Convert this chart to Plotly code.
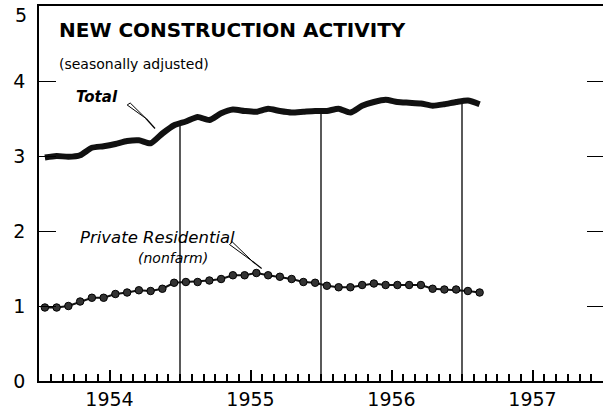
import plotly.graph_objects as go

# ---- data (billions of dollars, monthly, seasonally adjusted) ----
years = [1954, 1955, 1956, 1957]
year_labels = ["1954", "1955", "1956", "1957"]
y_ticks = [0, 1, 2, 3, 4]
y_tick_labels = ["0", "1", "2", "3", "4"]
y_top_label = "5"

total = [2.98, 3.00, 2.99, 3.01, 3.11, 3.13, 3.16, 3.20, 3.21, 3.17, 3.30, 3.41,
         3.46, 3.52, 3.48, 3.57, 3.62, 3.60, 3.59, 3.63, 3.60, 3.58, 3.59, 3.60,
         3.60, 3.63, 3.58, 3.67, 3.72, 3.75, 3.72, 3.71, 3.70, 3.67, 3.69, 3.72,
         3.74, 3.69]
private_residential = [0.98, 0.98, 1.00, 1.06, 1.11, 1.11, 1.16, 1.18, 1.21, 1.20, 1.23, 1.31,
                       1.32, 1.32, 1.34, 1.36, 1.41, 1.41, 1.44, 1.41, 1.39, 1.36, 1.32, 1.31,
                       1.27, 1.25, 1.25, 1.28, 1.30, 1.28, 1.28, 1.28, 1.28, 1.23, 1.22, 1.22,
                       1.20, 1.18]

# months Jan 1954 .. Feb 1957, plotted at mid-month (fractional years)
n = len(total)
x = [1954 + (i + 0.5) / 12 for i in range(n)]

FONT = "DejaVu Sans"
fig = go.Figure()

# vertical year dividers from zero up to the Total line
for yr in [1955, 1956, 1957]:
    k = (yr - 1954) * 12
    top = (total[k - 1] + total[k]) / 2
    fig.add_shape(type="line", xref="x", yref="y", x0=yr, x1=yr, y0=0, y1=top,
                  line=dict(color="black", width=1.3), layer="below")

fig.add_trace(go.Scatter(x=x, y=total, mode="lines",
                         line=dict(color="#111", width=6, shape="spline", smoothing=0.6),
                         hoverinfo="skip", showlegend=False))
fig.add_trace(go.Scatter(x=x, y=private_residential, mode="lines+markers",
                         line=dict(color="#111", width=2),
                         marker=dict(size=7.5, color="#333", line=dict(color="#000", width=1)),
                         hoverinfo="skip", showlegend=False))
# invisible trace for the right-hand tick axis
fig.add_trace(go.Scatter(x=[1954], y=[0], yaxis="y2", mode="markers",
                         marker=dict(opacity=0), hoverinfo="skip", showlegend=False))

# leader lines (hollow sliver + single stroke)
leaders = [
    [(1954.6255, 3.68), (1954.6468, 3.707), (1954.7589, 3.50), (1954.8227, 3.367)],
    [(1955.351, 1.82), (1955.372, 1.853), (1955.511, 1.60), (1955.579, 1.50)],
]
for a, b, c, d in leaders:
    fig.add_shape(type="path", xref="x", yref="y",
                  path=f"M{a[0]},{a[1]} L{c[0]},{c[1]} L{b[0]},{b[1]} Z",
                  line=dict(color="black", width=1), fillcolor="white")
    fig.add_shape(type="line", xref="x", yref="y", x0=c[0], y0=c[1], x1=d[0], y1=d[1],
                  line=dict(color="black", width=1.3))

ann = [
    dict(text="<b>NEW CONSTRUCTION ACTIVITY</b>", x=0.032, y=0.936, xanchor="left",
         font=dict(family=FONT, size=20, color="black")),
    dict(text="(seasonally adjusted)", x=0.032, y=0.845, xanchor="left",
         font=dict(family=FONT, size=14, color="black")),
    dict(text="<b><i>Total</i></b>", x=0.062, y=0.757, xanchor="left",
         font=dict(family=FONT, size=15, color="black")),
    dict(text="<i>Private Residential</i>", x=0.070, y=0.384, xanchor="left",
         font=dict(family=FONT, size=16.5, color="black")),
    dict(text="<i>(nonfarm)</i>", x=0.172, y=0.327, xanchor="left",
         font=dict(family=FONT, size=14, color="black")),
    dict(text=y_top_label, x=-0.018, y=0.976, xanchor="right",
         font=dict(family=FONT, size=19, color="black")),
]
for a in ann:
    fig.add_annotation(xref="paper", yref="paper", yanchor="middle",
                       showarrow=False, **a)

fig.update_layout(
    width=604, height=409,
    margin=dict(l=39, r=1, t=6, b=28),
    paper_bgcolor="white", plot_bgcolor="white",
    xaxis=dict(range=[1954, 1958], showgrid=False, zeroline=False, automargin=False,
               showline=True, linecolor="black", linewidth=2, mirror=True,
               tickmode="array", tickvals=[y + 0.5 for y in years], ticktext=year_labels,
               ticks="inside", ticklen=11, tickwidth=1.5, tickcolor="black",
               ticklabelstandoff=0,
               minor=dict(tickmode="linear", tick0=1954, dtick=1 / 12, ticks="inside",
                          ticklen=7, tickwidth=1.5, tickcolor="black", showgrid=False),
               tickfont=dict(family=FONT, size=19, color="black")),
    yaxis=dict(range=[0, 5], showgrid=False, zeroline=False, automargin=False,
               showline=True, linecolor="black", linewidth=1.5,
               tickmode="array", tickvals=y_ticks, ticktext=y_tick_labels,
               ticks="inside", ticklen=17, tickwidth=1.3, tickcolor="black",
               ticklabelstandoff=8,
               tickfont=dict(family=FONT, size=19, color="black")),
    yaxis2=dict(range=[0, 5], overlaying="y", side="right", showgrid=False, automargin=False,
                zeroline=False, showline=False, tickmode="array", tickvals=[1, 2, 3, 4],
                ticks="inside", ticklen=16, tickwidth=1.3, tickcolor="black",
                showticklabels=False),
)

fig.write_html("out.html", config={"displayModeBar": False},
               post_script="document.body.style.margin='0';document.body.style.overflow='hidden';")
